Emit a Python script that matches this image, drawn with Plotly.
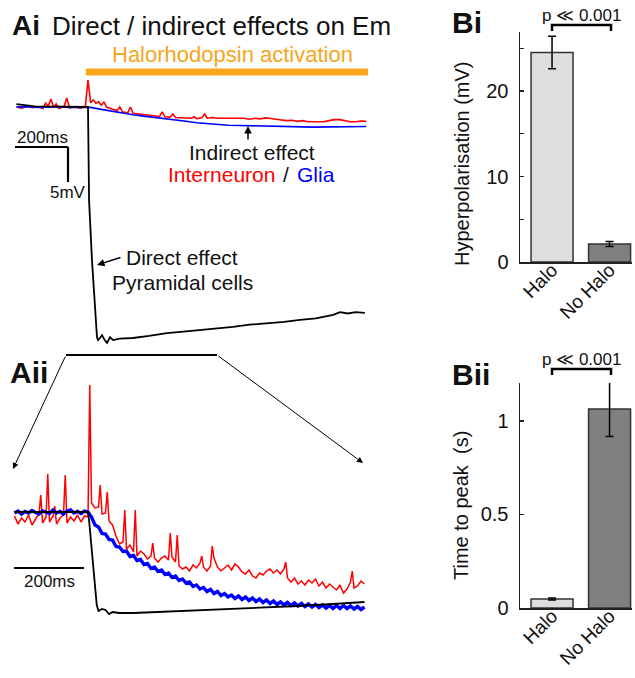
import plotly.graph_objects as go

W, H = 635, 678
FONT = "Arial, Liberation Sans, Helvetica, sans-serif"

# ---------------- DATA ----------------
groups = ["Halo", "No Halo"]
hyperpol_mV = [24.5, 2.1]
hyperpol_err = [1.9, 0.3]
time_to_peak_s = [0.048, 1.064]
time_to_peak_err = [0.005, 0.147]
bar_colors = ["#DEDEDE", "#808080"]
bi_ticks = [0, 5, 10, 15, 20, 25]
bi_ticktext = ["0", "", "10", "", "20", ""]
bii_ticks = [0, 0.5, 1]
bii_ticktext = ["0", "0.5", "1"]

# Ai : whole light period (ms, mV; 0 = light onset / resting level)
ai_black_t = [-270, -240, -200, -100, -10, 0, 4, 15, 34, 38, 45, 53, 63, 72, 83, 95, 120,
              170, 230, 298, 360, 423, 490, 547, 610, 675, 740, 800, 860, 925, 951, 980, 1010, 1045]
ai_black_v = [0.4, 0.3, 0.1, 0.05, 0.1, 0.0, -13.3, -21.9, -32.9, -33.3, -33.0, -32.6, -33.3, -33.7,
              -32.9, -33.3, -33.1, -33.0, -32.7, -32.3, -32.1, -31.9, -31.6, -31.4, -31.1, -30.9,
              -30.7, -30.4, -30.2, -29.7, -29.3, -29.5, -29.3, -29.4]

ai_red_t = list(range(-270, 1051, 20))
ai_red_v = [0.0, -0.15, 0.1, -0.1, 0.05, -0.2, 0.1, -0.05, -0.2, 0.1, -0.1, 0.05, -0.15, 0.1,
            0.6, 0.55, 0.25, 0.0, -0.3, -0.5, -0.7, -0.85, -0.9, -1.0,
            -1.1, -1.2, -1.3, -1.35, -1.4, -1.45, -1.5, -1.55, -1.5, -1.6,
            -1.65, -1.55, -1.6, -1.5, -1.6, -1.6, -1.7, -1.6, -1.65, -1.6,
            -1.75, -1.6, -1.7, -1.55, -1.65, -1.8, -1.85, -1.95, -1.9, -2.05,
            -1.95, -2.1, -2.1, -2.0, -2.1, -1.95, -1.8, -1.8, -1.95, -2.1,
            -2.1, -2.0, -2.05]
ai_red_spike_t = [-160, -140, -120, -80, 0, 20, 40, 60, 120, 160, 280, 320, 400, 440]
ai_red_spike_v = [0.55, 1.15, 0.45, 1.3, 3.85, 1.0, 0.75, 0.7, 0.0, 0.0, -0.7, -1.0, -1.4, -1.0]

ai_blue_t = list(range(-270, 1051, 40))
ai_blue_v = [0.0, 0.05, -0.05, 0.0, 0.05, -0.05, 0.0,
             -0.05, -0.34, -0.63, -0.89, -1.11, -1.30, -1.51, -1.70, -1.84, -2.04,
             -2.24, -2.36, -2.51, -2.60, -2.64, -2.69, -2.73, -2.77, -2.81, -2.86,
             -2.84, -2.88, -2.86, -2.84, -2.88, -2.86, -2.79]

# Aii : zoom on light onset (ms, scaled units)
aii_t = list(range(-210, 791, 10))
aii_blue_v = [-0.1, 0.1, -0.2, 0.05, -0.1, 0.15, -0.05, -0.2, 0.1, 0.0, -0.15, 0.2, -0.1, 0.05, -0.2,
              0.1, 0.2, -0.1, 0.05, -0.15, 0.1,
              0.0,
              -0.5, -1.3, -1.5, -2.15, -2.2, -2.75, -2.8, -3.45, -3.5, -3.95,
              -3.9, -4.45, -4.35, -4.85, -4.75, -5.25, -5.15, -5.65, -5.5, -5.95,
              -5.8, -6.25, -6.1, -6.55, -6.4, -6.85, -6.7, -7.1, -7.0, -7.45,
              -7.3, -7.7, -7.55, -7.95, -7.75, -8.15, -7.95, -8.35, -8.15, -8.5,
              -8.3, -8.65, -8.4, -8.75, -8.5, -8.85, -8.6, -8.95, -8.7, -9.05,
              -8.8, -9.15, -8.9, -9.25, -9.0, -9.3, -9.05, -9.35, -9.1, -9.4,
              -9.15, -9.45, -9.2, -9.5, -9.25, -9.55, -9.3, -9.6, -9.35, -9.65,
              -9.35, -9.65, -9.35, -9.65, -9.4, -9.7, -9.45, -9.75, -9.5]
aii_red_v = [-0.4, -1.2, -0.6, -1.0, -0.3, -1.3, -0.7, -0.2, -1.1, -0.5, -1.0, -0.4, -1.2, -0.6,
             -0.3, -1.1, -0.5, -0.9, -0.3, -1.0, -0.4,
             -0.5,
             0.9, 0.4, 0.5, -0.2, -0.1, -0.9, -1.3, -2.4, -3.2, -3.0,
             -3.7, -3.3, -4.0, -4.4, -3.9, -4.2, -4.7, -4.4, -4.6, -5.0,
             -4.6, -4.4, -4.8, -4.5, -5.0, -5.4, -5.7, -5.5, -5.9, -5.3,
             -5.6, -5.1, -5.5, -5.9, -5.4, -4.6, -5.5, -5.9, -5.6, -5.3,
             -5.8, -5.2, -5.5, -6.0, -6.2, -5.8, -6.4, -6.6, -6.1, -6.3,
             -5.9, -5.7, -6.1, -5.8, -6.2, -5.7, -6.6, -7.0, -6.6, -7.2,
             -6.9, -7.3, -6.8, -7.1, -6.7, -7.4, -7.0, -7.6, -7.2, -7.5,
             -7.8, -7.3, -8.1, -7.7, -7.0, -7.6, -7.4, -6.9, -7.2]
aii_red_spike_t = [-135, -115, -95, -65, 5, 35, 55, 105, 135, 185, 235, 255, 325, 355, 565, 755]
aii_red_spike_v = [1.7, 3.8, 0.6, 3.7, 12.7, 2.7, 2.0, 0.2, 0.2, -3.1, -2.1, -2.3, -4.4, -3.4, -5.0, -5.9]
aii_black_t = [-210, -100, 0, 3, 10, 18, 25, 30, 40, 50, 60, 70, 90, 130, 200, 300, 400, 500, 600, 700, 790]
aii_black_v = [0.0, 0.0, 0.0, -0.8, -3.5, -7.0, -9.3, -9.9, -9.7, -9.8, -10.2, -10.0, -10.1, -10.1,
               -10.0, -9.8, -9.7, -9.55, -9.4, -9.2, -9.0]

halo_window_ms = [-8, 1057]
scale_t_ms = 200
scale_v_mV = 5


def merge(t, v, st, sv):
    pts = sorted(zip(list(t) + list(st), list(v) + list(sv)))
    return [p[0] for p in pts], [p[1] for p in pts]


# ---------------- LAYOUT HELPERS ----------------
def X(px):
    return px / W


def Y(py):
    return 1 - py / H


# Ai mapping
AI_T0, AI_PXMS, AI_V0, AI_PXMV = 88, 0.265, 107, 7.0
# Aii mapping
AII_T0, AII_PXMS, AII_V0, AII_PXU = 88, 0.35, 512, 10.0

fig = go.Figure()

RED, BLUE, BLACK, ORANGE = "#FF0000", "#0000FF", "#000000", "#F7A51C"

# Ai traces
rt, rv = merge(ai_red_t, ai_red_v, ai_red_spike_t, ai_red_spike_v)
fig.add_trace(go.Scatter(x=rt, y=rv, mode="lines", line=dict(color=RED, width=1.6), xaxis="x", yaxis="y"))
fig.add_trace(go.Scatter(x=ai_blue_t, y=ai_blue_v, mode="lines", line=dict(color=BLUE, width=1.6),
                         xaxis="x", yaxis="y"))
fig.add_trace(go.Scatter(x=ai_black_t, y=ai_black_v, mode="lines", line=dict(color=BLACK, width=1.8),
                         xaxis="x", yaxis="y"))

# Aii traces
rt2, rv2 = merge(aii_t, aii_red_v, aii_red_spike_t, aii_red_spike_v)
fig.add_trace(go.Scatter(x=rt2, y=rv2, mode="lines", line=dict(color=RED, width=1.5), xaxis="x2", yaxis="y2"))
fig.add_trace(go.Scatter(x=aii_t, y=aii_blue_v, mode="lines", line=dict(color=BLUE, width=3.4),
                         xaxis="x2", yaxis="y2"))
fig.add_trace(go.Scatter(x=aii_black_t, y=aii_black_v, mode="lines", line=dict(color=BLACK, width=1.8),
                         xaxis="x2", yaxis="y2"))

# Bars
fig.add_trace(go.Bar(x=groups, y=hyperpol_mV, width=0.73,
                     marker=dict(color=bar_colors, line=dict(color="#333333", width=1.5)),
                     error_y=dict(type="data", array=hyperpol_err, color="black", thickness=1.5, width=4),
                     xaxis="x3", yaxis="y3"))
fig.add_trace(go.Bar(x=groups, y=time_to_peak_s, width=0.73,
                     marker=dict(color=bar_colors, line=dict(color="#333333", width=1.5)),
                     error_y=dict(type="data", array=time_to_peak_err, color="black", thickness=1.5, width=4),
                     xaxis="x4", yaxis="y4"))

hidden = dict(visible=False, showgrid=False, zeroline=False, automargin=False)
bar_x = dict(type="category", range=[-0.557, 1.39], showline=True, linecolor="#222", linewidth=1.5,
             ticks="", tickangle=-45, tickfont=dict(family=FONT, size=19, color="#111"), showgrid=False,
             zeroline=False, fixedrange=True, ticklabelstandoff=-12, automargin=False)
bar_y = dict(showline=True, linecolor="#222", linewidth=1.5, ticks="inside", ticklen=4, tickwidth=1.2,
             tickcolor="#222", tickfont=dict(family=FONT, size=20, color="#111"), showgrid=False,
             zeroline=False, ticklabelstandoff=6, automargin=False)

fig.update_layout(
    width=W, height=H, margin=dict(l=0, r=0, t=0, b=0, pad=0, autoexpand=False), autosize=False,
    paper_bgcolor="white", plot_bgcolor="rgba(0,0,0,0)", showlegend=False,
    font=dict(family=FONT, color="#111"),
    xaxis=dict(domain=[0, X(440)], range=[(0 - AI_T0) / AI_PXMS, (440 - AI_T0) / AI_PXMS], **hidden),
    yaxis=dict(domain=[Y(360), 1], range=[(AI_V0 - 360) / AI_PXMV, AI_V0 / AI_PXMV], **hidden),
    xaxis2=dict(domain=[0, X(440)], range=[(0 - AII_T0) / AII_PXMS, (440 - AII_T0) / AII_PXMS], **hidden),
    yaxis2=dict(domain=[0, Y(340)], range=[(AII_V0 - 678) / AII_PXU, (AII_V0 - 340) / AII_PXU], **hidden),
    xaxis3=dict(domain=[X(520), X(632)], anchor="y3", **bar_x),
    yaxis3=dict(domain=[Y(262), Y(32)], range=[0, 26.9], anchor="x3", tickvals=bi_ticks,
                ticktext=bi_ticktext, **bar_y),
    xaxis4=dict(domain=[X(520), X(632)], anchor="y4", **bar_x),
    yaxis4=dict(domain=[Y(608), Y(383)], range=[0, 1.203], anchor="x4", tickvals=bii_ticks,
                ticktext=bii_ticktext, **bar_y),
)

shapes = []
# Halorhodopsin bar (Ai data coords)
shapes.append(dict(type="line", xref="x", yref="y", x0=halo_window_ms[0], x1=halo_window_ms[1],
                   y0=(AI_V0 - 72) / AI_PXMV, y1=(AI_V0 - 72) / AI_PXMV, line=dict(color=ORANGE, width=7)))
# Ai scale bars
sx0 = (15 - AI_T0) / AI_PXMS
sy0 = (AI_V0 - 147) / AI_PXMV
shapes.append(dict(type="line", xref="x", yref="y", x0=sx0, x1=sx0 + scale_t_ms, y0=sy0, y1=sy0,
                   line=dict(color="black", width=2.2)))
shapes.append(dict(type="line", xref="x", yref="y", x0=sx0 + scale_t_ms, x1=sx0 + scale_t_ms, y0=sy0,
                   y1=sy0 - scale_v_mV, line=dict(color="black", width=2.2)))
# Aii scale bar
s2x0 = (14 - AII_T0) / AII_PXMS
s2y0 = (AII_V0 - 568) / AII_PXU
shapes.append(dict(type="line", xref="x2", yref="y2", x0=s2x0, x1=s2x0 + scale_t_ms, y0=s2y0, y1=s2y0,
                   line=dict(color="black", width=2.2)))
# zoom bracket
shapes.append(dict(type="line", xref="paper", yref="paper", x0=X(66), x1=X(217), y0=Y(355), y1=Y(355),
                   line=dict(color="black", width=2.2)))
# significance brackets
for (yl, yt) in [(25, 31), (369, 375)]:
    shapes.append(dict(type="path", xref="paper", yref="paper",
                       path=f"M {X(552)} {Y(yt)} L {X(552)} {Y(yl)} L {X(611)} {Y(yl)} L {X(611)} {Y(yt)}",
                       line=dict(color="black", width=2.5)))
fig.update_layout(shapes=shapes)


def txt(text, px, py, size, xanchor="center", color="#111", **kw):
    return dict(text=text, x=X(px), y=Y(py), xref="paper", yref="paper", showarrow=False,
                xanchor=xanchor, yanchor="middle", borderpad=0,
                font=dict(family=FONT, size=size, color=color), **kw)


def arrow(hx, hy, tx, ty, width=1.5, head=2, size=1.0):
    return dict(text="", x=X(hx), y=Y(hy), xref="paper", yref="paper", ax=tx - hx, ay=ty - hy,
                axref="pixel", ayref="pixel", showarrow=True, arrowhead=head, arrowsize=size,
                arrowwidth=width, arrowcolor="black", standoff=0, startstandoff=0)


ann = [
    txt("<b>Ai</b>", 11, 26, 28, "left"),
    txt("Direct / indirect effects on Em", 51, 26, 26, "left"),
    txt("Halorhodopsin activation", 232, 55, 22, color=ORANGE),
    txt("200ms", 42, 137, 17),
    txt("5mV", 68, 193, 17),
    txt("Indirect effect", 252, 152, 21),
    txt("Interneuron", 167, 175, 21, "left", color=RED),
    txt("/", 282, 175, 21, "left"),
    txt("Glia", 296, 175, 21, "left", color=BLUE),
    txt("Direct effect", 182, 257, 21),
    txt("Pyramidal cells", 182, 283, 21),
    arrow(248, 126, 248, 141),
    arrow(97, 265, 122, 257),
    txt("<b>Aii</b>", 9, 372, 30, "left"),
    txt("200ms", 49, 581, 17),
    arrow(13, 469, 66, 355, width=1, size=1.2),
    arrow(363, 463, 217, 355, width=1, size=1.2),
    txt("<b>Bi</b>", 451, 23, 30, "left"),
    txt("<b>Bii</b>", 451, 374, 30, "left"),
    txt("Hyperpolarisation (mV)", 462, 164, 20, textangle=-90),
    txt("Time to peak  (s)", 461, 506, 20, textangle=-90),
    txt("p \u226a 0.001", 581, 15, 17),
    txt("p \u226a 0.001", 581, 359, 17),
]
fig.update_layout(annotations=ann)

PAGE_FIX = ("var d=document.documentElement.style,b=document.body.style;"
            "d.margin=b.margin='0px';d.padding=b.padding='0px';"
            "d.overflow=b.overflow='hidden';d.height=b.height='678px';")
fig.write_html("out.html", config={"displayModeBar": False, "staticPlot": True}, post_script=PAGE_FIX)
